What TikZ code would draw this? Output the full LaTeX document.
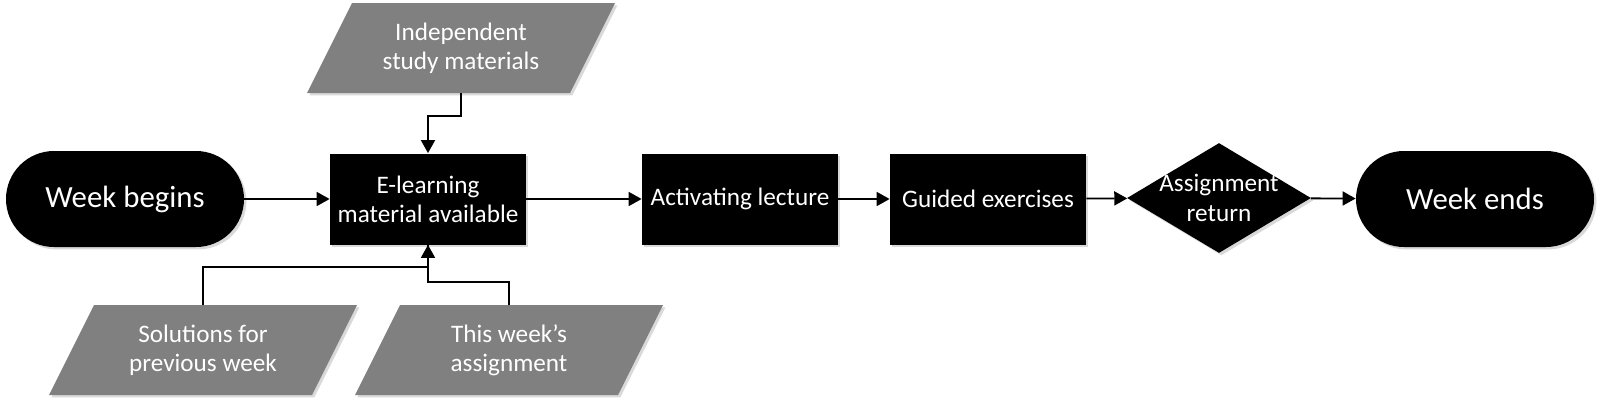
\documentclass[tikz,border=0pt]{standalone}
\usepackage{fontspec}
\setmainfont{Carlito}
\usetikzlibrary{shapes.geometric,arrows.meta,shadows,backgrounds}

\tikzset{
  softshadow/.style={drop shadow={shadow xshift=1.2pt,shadow yshift=-1.2pt,opacity=0.3}},
  terminal/.style={rectangle, rounded corners=24pt, fill=black, text=white,
    minimum width=119pt, minimum height=48pt, font=\fontsize{15.4}{18}\selectfont, softshadow},
  process/.style={rectangle, fill=black, text=white, align=center, inner sep=2pt,
    minimum width=98pt, minimum height=45.5pt, font=\fontsize{12.6}{14.5}\selectfont, softshadow},
  decision/.style={diamond, fill=black, inner sep=0pt,
    minimum width=92pt, minimum height=55pt, softshadow},
  material/.style={rectangle, text=white, align=center, inner sep=0pt, outer sep=0pt,
    minimum width=131.5pt, minimum height=45pt, font=\fontsize{12.6}{14.5}\selectfont},
  arr/.style={-{Triangle[length=6.5pt,width=7pt]}, line width=0.9pt}
}

\begin{document}
\begin{tikzpicture}[x=0.5pt,y=-0.5pt]
  \useasboundingbox (0,0) rectangle (1600,407);
  % Main row
  \node[terminal] (start) at (125,199) {Week begins};
  \node[process] (elearn) at (428,199) {E-learning\\material available};
  \node[process] (lecture) at (740,199) {Activating lecture};
  \node[process] (guided) at (988,199) {Guided exercises};
  \node[decision] (ret) at (1219,198) {};
  \node[text=white, align=center, font=\fontsize{12.6}{15.3}\selectfont] (rettext) at (ret) {Assignment\\return};
  \node[terminal] (end) at (1475,199) {Week ends};
  % Materials
  \node[material] (indep) at (461,48) {Independent\\study materials};
  \node[material] (sol) at (203,350) {Solutions for\\previous week};
  \node[material] (assign) at (509,350) {This week’s\\assignment};
  % Parallelograms behind the material texts
  \begin{scope}[on background layer]
    \foreach \m in {indep,sol,assign}
      \fill[black!50, softshadow] ([xshift=11.25pt]\m.north west) -- ([xshift=11.25pt]\m.north east)
        -- ([xshift=-11.25pt]\m.south east) -- ([xshift=-11.25pt]\m.south west) -- cycle;
  \end{scope}
  % Arrows
  \draw[arr] (start) -- (elearn);
  \draw[arr] (elearn) -- (lecture);
  \draw[arr] (lecture) -- (guided);
  \draw[arr] (guided) -- (ret);
  \draw[arr] (ret) -- (end);
  \draw[arr] (indep.south) -- ++(0,23) -| (elearn.north);
  \draw[arr] (sol.north) -- ++(0,-38) -| (elearn.south);
  \draw[line width=0.9pt] (assign.north) -- ++(0,-23) -| ([yshift=10.5pt]elearn.south);
\end{tikzpicture}
\end{document}
